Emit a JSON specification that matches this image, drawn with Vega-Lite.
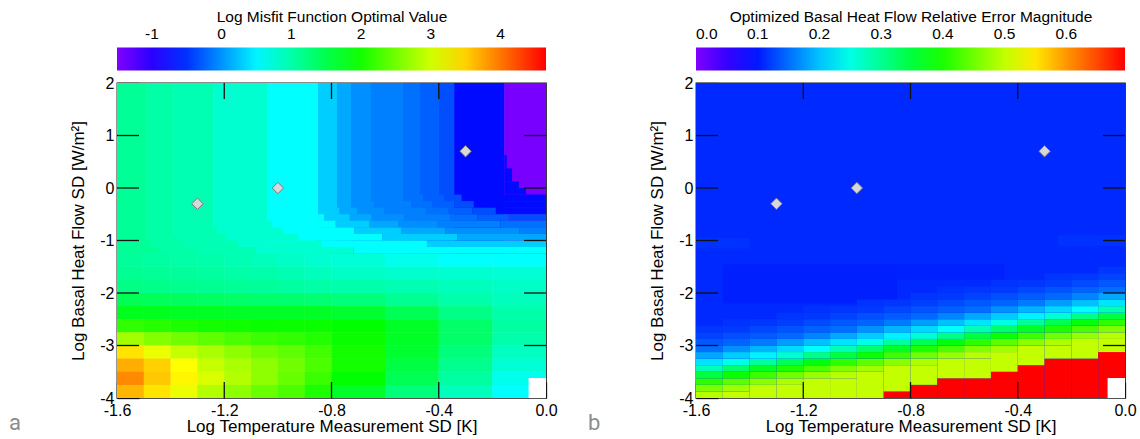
{
"$schema": "https://vega.github.io/schema/vega-lite/v6.json",
"background": "white",
"padding": {"left": 8, "top": 9, "right": 0, "bottom": 0},
"autosize": {"type": "pad"},
"bounds": "flush",
"spacing": 150,
"datasets": {
"pts": [{"x": -1.3, "y": -0.3}, {"x": -1.0, "y": 0.0}, {"x": -0.3, "y": 0.7}],
"sq": [{"x": -0.065, "x2": 0, "y": -4, "y2": -3.62}],
"xt": [{"t": -1.2}, {"t": -0.8}, {"t": -0.4}],
"yt": [{"t": -3}, {"t": -2}, {"t": -1}, {"t": 0}, {"t": 1}],
"fa": [
{"x":-1.6,"x2":-1.49,"y":-1.25,"y2":2,"v":1.1},
{"x":-1.49,"x2":-1.39,"y":-1.25,"y2":2,"v":1.02},
{"x":-1.39,"x2":-1.24,"y":-1.25,"y2":2,"v":0.95},
{"x":-1.24,"x2":-1.04,"y":-1.25,"y2":2,"v":0.8},
{"x":-1.04,"x2":-0.85,"y":-1.25,"y2":2,"v":0.55},
{"x":-0.85,"x2":-0.78,"y":-1.25,"y2":2,"v":0.3},
{"x":-0.78,"x2":-0.727,"y":-1.25,"y2":2,"v":0.11},
{"x":-0.727,"x2":-0.653,"y":-1.25,"y2":2,"v":-0.02},
{"x":-0.653,"x2":-0.534,"y":-1.25,"y2":2,"v":-0.1},
{"x":-0.534,"x2":-0.47,"y":-1.25,"y2":2,"v":-0.18},
{"x":-0.47,"x2":-0.4,"y":-1.25,"y2":2,"v":-0.26},
{"x":-0.4,"x2":-0.342,"y":-1.25,"y2":2,"v":-0.35},
{"x":-0.342,"x2":-0.155,"y":-1.25,"y2":2,"v":-0.7},
{"x":-0.155,"x2":0,"y":-1.25,"y2":2,"v":-1.45},
{"x":-0.155,"x2":-0.146,"y":0.375,"y2":0.625,"v":-0.7},
{"x":-0.146,"x2":0,"y":0.375,"y2":0.625,"v":-1.45},
{"x":-0.155,"x2":-0.126,"y":0.125,"y2":0.375,"v":-0.7},
{"x":-0.126,"x2":0,"y":0.125,"y2":0.375,"v":-1.45},
{"x":-0.155,"x2":-0.101,"y":0,"y2":0.125,"v":-0.7},
{"x":-0.101,"x2":0,"y":0,"y2":0.125,"v":-1.45},
{"x":-0.155,"x2":-0.074,"y":-0.125,"y2":0,"v":-0.7},
{"x":-0.074,"x2":0,"y":-0.125,"y2":0,"v":-1.45},
{"x":-0.47,"x2":-0.458,"y":-0.25,"y2":-0.125,"v":-0.18},
{"x":-0.458,"x2":-0.38,"y":-0.25,"y2":-0.125,"v":-0.26},
{"x":-0.38,"x2":-0.314,"y":-0.25,"y2":-0.125,"v":-0.35},
{"x":-0.314,"x2":0,"y":-0.25,"y2":-0.125,"v":-0.7},
{"x":-0.653,"x2":-0.642,"y":-0.375,"y2":-0.25,"v":-0.02},
{"x":-0.642,"x2":-0.502,"y":-0.375,"y2":-0.25,"v":-0.1},
{"x":-0.502,"x2":-0.424,"y":-0.375,"y2":-0.25,"v":-0.18},
{"x":-0.424,"x2":-0.341,"y":-0.375,"y2":-0.25,"v":-0.26},
{"x":-0.341,"x2":-0.269,"y":-0.375,"y2":-0.25,"v":-0.35},
{"x":-0.269,"x2":0,"y":-0.375,"y2":-0.25,"v":-0.7},
{"x":-0.78,"x2":-0.77,"y":-0.5,"y2":-0.375,"v":0.3},
{"x":-0.77,"x2":-0.705,"y":-0.5,"y2":-0.375,"v":0.11},
{"x":-0.705,"x2":-0.603,"y":-0.5,"y2":-0.375,"v":-0.02},
{"x":-0.603,"x2":-0.448,"y":-0.5,"y2":-0.375,"v":-0.1},
{"x":-0.448,"x2":-0.363,"y":-0.5,"y2":-0.375,"v":-0.18},
{"x":-0.363,"x2":-0.274,"y":-0.5,"y2":-0.375,"v":-0.26},
{"x":-0.274,"x2":-0.187,"y":-0.5,"y2":-0.375,"v":-0.35},
{"x":-0.187,"x2":0,"y":-0.5,"y2":-0.375,"v":-0.7},
{"x":-0.85,"x2":-0.828,"y":-0.625,"y2":-0.5,"v":0.55},
{"x":-0.828,"x2":-0.732,"y":-0.625,"y2":-0.5,"v":0.3},
{"x":-0.732,"x2":-0.65,"y":-0.625,"y2":-0.5,"v":0.11},
{"x":-0.65,"x2":-0.53,"y":-0.625,"y2":-0.5,"v":-0.02},
{"x":-0.53,"x2":-0.356,"y":-0.625,"y2":-0.5,"v":-0.1},
{"x":-0.356,"x2":-0.255,"y":-0.625,"y2":-0.5,"v":-0.18},
{"x":-0.255,"x2":-0.139,"y":-0.625,"y2":-0.5,"v":-0.26},
{"x":-0.139,"x2":0,"y":-0.625,"y2":-0.5,"v":-0.35},
{"x":-1.04,"x2":-1.02,"y":-0.75,"y2":-0.625,"v":0.8},
{"x":-1.02,"x2":-0.785,"y":-0.75,"y2":-0.625,"v":0.55},
{"x":-0.785,"x2":-0.66,"y":-0.75,"y2":-0.625,"v":0.3},
{"x":-0.66,"x2":-0.551,"y":-0.75,"y2":-0.625,"v":0.11},
{"x":-0.551,"x2":-0.404,"y":-0.75,"y2":-0.625,"v":-0.02},
{"x":-0.404,"x2":-0.17,"y":-0.75,"y2":-0.625,"v":-0.1},
{"x":-0.17,"x2":0,"y":-0.75,"y2":-0.625,"v":-0.18},
{"x":-1.24,"x2":-1.226,"y":-0.875,"y2":-0.75,"v":0.95},
{"x":-1.226,"x2":-0.982,"y":-0.875,"y2":-0.75,"v":0.8},
{"x":-0.982,"x2":-0.715,"y":-0.875,"y2":-0.75,"v":0.55},
{"x":-0.715,"x2":-0.541,"y":-0.875,"y2":-0.75,"v":0.3},
{"x":-0.541,"x2":-0.375,"y":-0.875,"y2":-0.75,"v":0.11},
{"x":-0.375,"x2":-0.1,"y":-0.875,"y2":-0.75,"v":-0.02},
{"x":-0.1,"x2":0,"y":-0.875,"y2":-0.75,"v":-0.1},
{"x":-1.39,"x2":-1.38,"y":-1,"y2":-0.875,"v":1.02},
{"x":-1.38,"x2":-1.197,"y":-1,"y2":-0.875,"v":0.95},
{"x":-1.197,"x2":-0.923,"y":-1,"y2":-0.875,"v":0.8},
{"x":-0.923,"x2":-0.61,"y":-1,"y2":-0.875,"v":0.55},
{"x":-0.61,"x2":-0.329,"y":-1,"y2":-0.875,"v":0.3},
{"x":-0.329,"x2":0,"y":-1,"y2":-0.875,"v":0.11},
{"x":-1.49,"x2":-1.475,"y":-1.125,"y2":-1,"v":1.1},
{"x":-1.475,"x2":-1.354,"y":-1.125,"y2":-1,"v":1.02},
{"x":-1.354,"x2":-1.15,"y":-1.125,"y2":-1,"v":0.95},
{"x":-1.15,"x2":-0.838,"y":-1.125,"y2":-1,"v":0.8},
{"x":-0.838,"x2":-0.444,"y":-1.125,"y2":-1,"v":0.55},
{"x":-0.444,"x2":0,"y":-1.125,"y2":-1,"v":0.3},
{"x":-1.49,"x2":-1.443,"y":-1.25,"y2":-1.125,"v":1.1},
{"x":-1.443,"x2":-1.309,"y":-1.25,"y2":-1.125,"v":1.02},
{"x":-1.309,"x2":-1.081,"y":-1.25,"y2":-1.125,"v":0.95},
{"x":-1.081,"x2":-0.717,"y":-1.25,"y2":-1.125,"v":0.8},
{"x":-0.717,"x2":0,"y":-1.25,"y2":-1.125,"v":0.55},
{"x":-1.6,"x2":-1.5,"y":-1.5,"y2":-1.25,"v":1.08},
{"x":-1.5,"x2":-1.4,"y":-1.5,"y2":-1.25,"v":1.05},
{"x":-1.4,"x2":-1.3,"y":-1.5,"y2":-1.25,"v":1.02},
{"x":-1.3,"x2":-1.2,"y":-1.5,"y2":-1.25,"v":1.0},
{"x":-1.2,"x2":-1.1,"y":-1.5,"y2":-1.25,"v":0.95},
{"x":-1.1,"x2":-1.0,"y":-1.5,"y2":-1.25,"v":0.9},
{"x":-1.0,"x2":-0.9,"y":-1.5,"y2":-1.25,"v":0.85},
{"x":-0.9,"x2":-0.8,"y":-1.5,"y2":-1.25,"v":0.8},
{"x":-0.8,"x2":-0.6,"y":-1.5,"y2":-1.25,"v":0.75},
{"x":-0.6,"x2":-0.4,"y":-1.5,"y2":-1.25,"v":0.65},
{"x":-0.4,"x2":-0.2,"y":-1.5,"y2":-1.25,"v":0.55},
{"x":-0.2,"x2":0,"y":-1.5,"y2":-1.25,"v":0.55},
{"x":-1.6,"x2":-1.5,"y":-1.75,"y2":-1.5,"v":1.12},
{"x":-1.5,"x2":-1.4,"y":-1.75,"y2":-1.5,"v":1.1},
{"x":-1.4,"x2":-1.3,"y":-1.75,"y2":-1.5,"v":1.08},
{"x":-1.3,"x2":-1.2,"y":-1.75,"y2":-1.5,"v":1.05},
{"x":-1.2,"x2":-1.1,"y":-1.75,"y2":-1.5,"v":1.02},
{"x":-1.1,"x2":-1.0,"y":-1.75,"y2":-1.5,"v":1.0},
{"x":-1.0,"x2":-0.9,"y":-1.75,"y2":-1.5,"v":0.95},
{"x":-0.9,"x2":-0.8,"y":-1.75,"y2":-1.5,"v":0.9},
{"x":-0.8,"x2":-0.6,"y":-1.75,"y2":-1.5,"v":0.85},
{"x":-0.6,"x2":-0.4,"y":-1.75,"y2":-1.5,"v":0.82},
{"x":-0.4,"x2":-0.2,"y":-1.75,"y2":-1.5,"v":0.8},
{"x":-0.2,"x2":0,"y":-1.75,"y2":-1.5,"v":0.78},
{"x":-1.6,"x2":-1.5,"y":-2,"y2":-1.75,"v":1.2},
{"x":-1.5,"x2":-1.4,"y":-2,"y2":-1.75,"v":1.18},
{"x":-1.4,"x2":-1.3,"y":-2,"y2":-1.75,"v":1.15},
{"x":-1.3,"x2":-1.2,"y":-2,"y2":-1.75,"v":1.12},
{"x":-1.2,"x2":-1.1,"y":-2,"y2":-1.75,"v":1.1},
{"x":-1.1,"x2":-1.0,"y":-2,"y2":-1.75,"v":1.08},
{"x":-1.0,"x2":-0.9,"y":-2,"y2":-1.75,"v":1.05},
{"x":-0.9,"x2":-0.8,"y":-2,"y2":-1.75,"v":1.02},
{"x":-0.8,"x2":-0.6,"y":-2,"y2":-1.75,"v":1.0},
{"x":-0.6,"x2":-0.4,"y":-2,"y2":-1.75,"v":0.95},
{"x":-0.4,"x2":-0.2,"y":-2,"y2":-1.75,"v":0.9},
{"x":-0.2,"x2":0,"y":-2,"y2":-1.75,"v":0.85},
{"x":-1.6,"x2":-1.5,"y":-2.25,"y2":-2,"v":1.45},
{"x":-1.5,"x2":-1.4,"y":-2.25,"y2":-2,"v":1.42},
{"x":-1.4,"x2":-1.3,"y":-2.25,"y2":-2,"v":1.4},
{"x":-1.3,"x2":-1.2,"y":-2.25,"y2":-2,"v":1.38},
{"x":-1.2,"x2":-1.1,"y":-2.25,"y2":-2,"v":1.35},
{"x":-1.1,"x2":-1.0,"y":-2.25,"y2":-2,"v":1.33},
{"x":-1.0,"x2":-0.9,"y":-2.25,"y2":-2,"v":1.32},
{"x":-0.9,"x2":-0.8,"y":-2.25,"y2":-2,"v":1.3},
{"x":-0.8,"x2":-0.6,"y":-2.25,"y2":-2,"v":1.25},
{"x":-0.6,"x2":-0.4,"y":-2.25,"y2":-2,"v":1.12},
{"x":-0.4,"x2":-0.2,"y":-2.25,"y2":-2,"v":1.0},
{"x":-0.2,"x2":0,"y":-2.25,"y2":-2,"v":0.9},
{"x":-1.6,"x2":-1.5,"y":-2.5,"y2":-2.25,"v":1.75},
{"x":-1.5,"x2":-1.4,"y":-2.5,"y2":-2.25,"v":1.75},
{"x":-1.4,"x2":-1.3,"y":-2.5,"y2":-2.25,"v":1.72},
{"x":-1.3,"x2":-1.2,"y":-2.5,"y2":-2.25,"v":1.72},
{"x":-1.2,"x2":-1.1,"y":-2.5,"y2":-2.25,"v":1.7},
{"x":-1.1,"x2":-1.0,"y":-2.5,"y2":-2.25,"v":1.7},
{"x":-1.0,"x2":-0.9,"y":-2.5,"y2":-2.25,"v":1.7},
{"x":-0.9,"x2":-0.8,"y":-2.5,"y2":-2.25,"v":1.7},
{"x":-0.8,"x2":-0.6,"y":-2.5,"y2":-2.25,"v":1.65},
{"x":-0.6,"x2":-0.4,"y":-2.5,"y2":-2.25,"v":1.45},
{"x":-0.4,"x2":-0.2,"y":-2.5,"y2":-2.25,"v":1.2},
{"x":-0.2,"x2":0,"y":-2.5,"y2":-2.25,"v":1.0},
{"x":-1.6,"x2":-1.5,"y":-2.75,"y2":-2.5,"v":2.15},
{"x":-1.5,"x2":-1.4,"y":-2.75,"y2":-2.5,"v":2.1},
{"x":-1.4,"x2":-1.3,"y":-2.75,"y2":-2.5,"v":2.05},
{"x":-1.3,"x2":-1.2,"y":-2.75,"y2":-2.5,"v":2.0},
{"x":-1.2,"x2":-1.1,"y":-2.75,"y2":-2.5,"v":1.98},
{"x":-1.1,"x2":-1.0,"y":-2.75,"y2":-2.5,"v":1.95},
{"x":-1.0,"x2":-0.9,"y":-2.75,"y2":-2.5,"v":1.95},
{"x":-0.9,"x2":-0.8,"y":-2.75,"y2":-2.5,"v":1.95},
{"x":-0.8,"x2":-0.6,"y":-2.75,"y2":-2.5,"v":1.9},
{"x":-0.6,"x2":-0.4,"y":-2.75,"y2":-2.5,"v":1.7},
{"x":-0.4,"x2":-0.2,"y":-2.75,"y2":-2.5,"v":1.35},
{"x":-0.2,"x2":0,"y":-2.75,"y2":-2.5,"v":1.05},
{"x":-1.6,"x2":-1.5,"y":-3,"y2":-2.75,"v":2.75},
{"x":-1.5,"x2":-1.4,"y":-3,"y2":-2.75,"v":2.6},
{"x":-1.4,"x2":-1.3,"y":-3,"y2":-2.75,"v":2.5},
{"x":-1.3,"x2":-1.2,"y":-3,"y2":-2.75,"v":2.4},
{"x":-1.2,"x2":-1.1,"y":-3,"y2":-2.75,"v":2.3},
{"x":-1.1,"x2":-1.0,"y":-3,"y2":-2.75,"v":2.2},
{"x":-1.0,"x2":-0.9,"y":-3,"y2":-2.75,"v":2.15},
{"x":-0.9,"x2":-0.8,"y":-3,"y2":-2.75,"v":2.08},
{"x":-0.8,"x2":-0.6,"y":-3,"y2":-2.75,"v":1.95},
{"x":-0.6,"x2":-0.4,"y":-3,"y2":-2.75,"v":1.7},
{"x":-0.4,"x2":-0.2,"y":-3,"y2":-2.75,"v":1.35},
{"x":-0.2,"x2":0,"y":-3,"y2":-2.75,"v":1.0},
{"x":-1.6,"x2":-1.5,"y":-3.25,"y2":-3,"v":3.4},
{"x":-1.5,"x2":-1.4,"y":-3.25,"y2":-3,"v":3.15},
{"x":-1.4,"x2":-1.3,"y":-3.25,"y2":-3,"v":2.95},
{"x":-1.3,"x2":-1.2,"y":-3.25,"y2":-3,"v":2.8},
{"x":-1.2,"x2":-1.1,"y":-3.25,"y2":-3,"v":2.65},
{"x":-1.1,"x2":-1.0,"y":-3.25,"y2":-3,"v":2.5},
{"x":-1.0,"x2":-0.9,"y":-3.25,"y2":-3,"v":2.4},
{"x":-0.9,"x2":-0.8,"y":-3.25,"y2":-3,"v":2.25},
{"x":-0.8,"x2":-0.6,"y":-3.25,"y2":-3,"v":2.0},
{"x":-0.6,"x2":-0.4,"y":-3.25,"y2":-3,"v":1.65},
{"x":-0.4,"x2":-0.2,"y":-3.25,"y2":-3,"v":1.25},
{"x":-0.2,"x2":0,"y":-3.25,"y2":-3,"v":0.88},
{"x":-1.6,"x2":-1.5,"y":-3.5,"y2":-3.25,"v":3.7},
{"x":-1.5,"x2":-1.4,"y":-3.5,"y2":-3.25,"v":3.5},
{"x":-1.4,"x2":-1.3,"y":-3.5,"y2":-3.25,"v":3.25},
{"x":-1.3,"x2":-1.2,"y":-3.5,"y2":-3.25,"v":2.95},
{"x":-1.2,"x2":-1.1,"y":-3.5,"y2":-3.25,"v":2.8},
{"x":-1.1,"x2":-1.0,"y":-3.5,"y2":-3.25,"v":2.65},
{"x":-1.0,"x2":-0.9,"y":-3.5,"y2":-3.25,"v":2.5},
{"x":-0.9,"x2":-0.8,"y":-3.5,"y2":-3.25,"v":2.3},
{"x":-0.8,"x2":-0.6,"y":-3.5,"y2":-3.25,"v":2.0},
{"x":-0.6,"x2":-0.4,"y":-3.5,"y2":-3.25,"v":1.55},
{"x":-0.4,"x2":-0.2,"y":-3.5,"y2":-3.25,"v":1.15},
{"x":-0.2,"x2":0,"y":-3.5,"y2":-3.25,"v":0.78},
{"x":-1.6,"x2":-1.5,"y":-3.75,"y2":-3.5,"v":3.9},
{"x":-1.5,"x2":-1.4,"y":-3.75,"y2":-3.5,"v":3.55},
{"x":-1.4,"x2":-1.3,"y":-3.75,"y2":-3.5,"v":3.3},
{"x":-1.3,"x2":-1.2,"y":-3.75,"y2":-3.5,"v":3.05},
{"x":-1.2,"x2":-1.1,"y":-3.75,"y2":-3.5,"v":2.85},
{"x":-1.1,"x2":-1.0,"y":-3.75,"y2":-3.5,"v":2.65},
{"x":-1.0,"x2":-0.9,"y":-3.75,"y2":-3.5,"v":2.45},
{"x":-0.9,"x2":-0.8,"y":-3.75,"y2":-3.5,"v":2.2},
{"x":-0.8,"x2":-0.6,"y":-3.75,"y2":-3.5,"v":1.9},
{"x":-0.6,"x2":-0.4,"y":-3.75,"y2":-3.5,"v":1.45},
{"x":-0.4,"x2":-0.2,"y":-3.75,"y2":-3.5,"v":1.05},
{"x":-0.2,"x2":0,"y":-3.75,"y2":-3.5,"v":0.65},
{"x":-1.6,"x2":-1.5,"y":-4,"y2":-3.75,"v":3.65},
{"x":-1.5,"x2":-1.4,"y":-4,"y2":-3.75,"v":3.4},
{"x":-1.4,"x2":-1.3,"y":-4,"y2":-3.75,"v":3.15},
{"x":-1.3,"x2":-1.2,"y":-4,"y2":-3.75,"v":2.85},
{"x":-1.2,"x2":-1.1,"y":-4,"y2":-3.75,"v":2.65},
{"x":-1.1,"x2":-1.0,"y":-4,"y2":-3.75,"v":2.45},
{"x":-1.0,"x2":-0.9,"y":-4,"y2":-3.75,"v":2.3},
{"x":-0.9,"x2":-0.8,"y":-4,"y2":-3.75,"v":2.05},
{"x":-0.8,"x2":-0.6,"y":-4,"y2":-3.75,"v":1.7},
{"x":-0.6,"x2":-0.4,"y":-4,"y2":-3.75,"v":1.25},
{"x":-0.4,"x2":-0.2,"y":-4,"y2":-3.75,"v":0.9},
{"x":-0.2,"x2":0,"y":-4,"y2":-3.75,"v":0.55}
],
"fb": [
{"x":-1.6,"x2":0,"y":-4,"y2":2,"v":0.11},
{"x":-1.5,"x2":-0.85,"y":-2.2,"y2":-1.45,"v":0.104},
{"x":-0.85,"x2":-0.45,"y":-1.75,"y2":-1.45,"v":0.105},
{"x":-1.6,"x2":-1.4,"y":-1.15,"y2":-0.95,"v":0.115},
{"x":-0.25,"x2":0,"y":-1.1,"y2":-0.9,"v":0.115},
{"x":-1.6,"x2":-1.5,"y":-4,"y2":-3.875,"v":0.493},
{"x":-1.6,"x2":-1.5,"y":-3.875,"y2":-3.75,"v":0.46},
{"x":-1.6,"x2":-1.5,"y":-3.75,"y2":-3.625,"v":0.411},
{"x":-1.6,"x2":-1.5,"y":-3.625,"y2":-3.5,"v":0.35},
{"x":-1.6,"x2":-1.5,"y":-3.5,"y2":-3.375,"v":0.278},
{"x":-1.6,"x2":-1.5,"y":-3.375,"y2":-3.25,"v":0.22},
{"x":-1.6,"x2":-1.5,"y":-3.25,"y2":-3.125,"v":0.185},
{"x":-1.6,"x2":-1.5,"y":-3.125,"y2":-3,"v":0.15},
{"x":-1.6,"x2":-1.5,"y":-3,"y2":-2.875,"v":0.1375},
{"x":-1.6,"x2":-1.5,"y":-2.875,"y2":-2.75,"v":0.125},
{"x":-1.6,"x2":-1.5,"y":-2.75,"y2":-2.625,"v":0.1175},
{"x":-1.5,"x2":-1.4,"y":-4,"y2":-3.875,"v":0.5},
{"x":-1.5,"x2":-1.4,"y":-3.875,"y2":-3.75,"v":0.48},
{"x":-1.5,"x2":-1.4,"y":-3.75,"y2":-3.625,"v":0.44},
{"x":-1.5,"x2":-1.4,"y":-3.625,"y2":-3.5,"v":0.391},
{"x":-1.5,"x2":-1.4,"y":-3.5,"y2":-3.375,"v":0.322},
{"x":-1.5,"x2":-1.4,"y":-3.375,"y2":-3.25,"v":0.249},
{"x":-1.5,"x2":-1.4,"y":-3.25,"y2":-3.125,"v":0.206},
{"x":-1.5,"x2":-1.4,"y":-3.125,"y2":-3,"v":0.171},
{"x":-1.5,"x2":-1.4,"y":-3,"y2":-2.875,"v":0.145},
{"x":-1.5,"x2":-1.4,"y":-2.875,"y2":-2.75,"v":0.1325},
{"x":-1.5,"x2":-1.4,"y":-2.75,"y2":-2.625,"v":0.12},
{"x":-1.5,"x2":-1.4,"y":-2.625,"y2":-2.5,"v":0.116},
{"x":-1.4,"x2":-1.3,"y":-4,"y2":-3.75,"v":0.5},
{"x":-1.4,"x2":-1.3,"y":-3.75,"y2":-3.625,"v":0.467},
{"x":-1.4,"x2":-1.3,"y":-3.625,"y2":-3.5,"v":0.421},
{"x":-1.4,"x2":-1.3,"y":-3.5,"y2":-3.375,"v":0.365},
{"x":-1.4,"x2":-1.3,"y":-3.375,"y2":-3.25,"v":0.293},
{"x":-1.4,"x2":-1.3,"y":-3.25,"y2":-3.125,"v":0.228},
{"x":-1.4,"x2":-1.3,"y":-3.125,"y2":-3,"v":0.192},
{"x":-1.4,"x2":-1.3,"y":-3,"y2":-2.875,"v":0.157},
{"x":-1.4,"x2":-1.3,"y":-2.875,"y2":-2.75,"v":0.14},
{"x":-1.4,"x2":-1.3,"y":-2.75,"y2":-2.625,"v":0.1275},
{"x":-1.4,"x2":-1.3,"y":-2.625,"y2":-2.5,"v":0.118},
{"x":-1.3,"x2":-1.2,"y":-4,"y2":-3.75,"v":0.5},
{"x":-1.3,"x2":-1.2,"y":-3.75,"y2":-3.625,"v":0.487},
{"x":-1.3,"x2":-1.2,"y":-3.625,"y2":-3.5,"v":0.45},
{"x":-1.3,"x2":-1.2,"y":-3.5,"y2":-3.375,"v":0.401},
{"x":-1.3,"x2":-1.2,"y":-3.375,"y2":-3.25,"v":0.336},
{"x":-1.3,"x2":-1.2,"y":-3.25,"y2":-3.125,"v":0.264},
{"x":-1.3,"x2":-1.2,"y":-3.125,"y2":-3,"v":0.213},
{"x":-1.3,"x2":-1.2,"y":-3,"y2":-2.875,"v":0.178},
{"x":-1.3,"x2":-1.2,"y":-2.875,"y2":-2.75,"v":0.1475},
{"x":-1.3,"x2":-1.2,"y":-2.75,"y2":-2.625,"v":0.135},
{"x":-1.3,"x2":-1.2,"y":-2.625,"y2":-2.5,"v":0.1225},
{"x":-1.3,"x2":-1.2,"y":-2.5,"y2":-2.375,"v":0.117},
{"x":-1.2,"x2":-1.1,"y":-4,"y2":-3.625,"v":0.5},
{"x":-1.2,"x2":-1.1,"y":-3.625,"y2":-3.5,"v":0.473},
{"x":-1.2,"x2":-1.1,"y":-3.5,"y2":-3.375,"v":0.43},
{"x":-1.2,"x2":-1.1,"y":-3.375,"y2":-3.25,"v":0.379},
{"x":-1.2,"x2":-1.1,"y":-3.25,"y2":-3.125,"v":0.307},
{"x":-1.2,"x2":-1.1,"y":-3.125,"y2":-3,"v":0.235},
{"x":-1.2,"x2":-1.1,"y":-3,"y2":-2.875,"v":0.199},
{"x":-1.2,"x2":-1.1,"y":-2.875,"y2":-2.75,"v":0.164},
{"x":-1.2,"x2":-1.1,"y":-2.75,"y2":-2.625,"v":0.1425},
{"x":-1.2,"x2":-1.1,"y":-2.625,"y2":-2.5,"v":0.13},
{"x":-1.2,"x2":-1.1,"y":-2.5,"y2":-2.375,"v":0.119},
{"x":-1.2,"x2":-1.1,"y":-2.375,"y2":-2.25,"v":0.115},
{"x":-1.1,"x2":-1.0,"y":-4,"y2":-3.625,"v":0.5},
{"x":-1.1,"x2":-1.0,"y":-3.625,"y2":-3.5,"v":0.493},
{"x":-1.1,"x2":-1.0,"y":-3.5,"y2":-3.375,"v":0.46},
{"x":-1.1,"x2":-1.0,"y":-3.375,"y2":-3.25,"v":0.411},
{"x":-1.1,"x2":-1.0,"y":-3.25,"y2":-3.125,"v":0.35},
{"x":-1.1,"x2":-1.0,"y":-3.125,"y2":-3,"v":0.278},
{"x":-1.1,"x2":-1.0,"y":-3,"y2":-2.875,"v":0.22},
{"x":-1.1,"x2":-1.0,"y":-2.875,"y2":-2.75,"v":0.185},
{"x":-1.1,"x2":-1.0,"y":-2.75,"y2":-2.625,"v":0.15},
{"x":-1.1,"x2":-1.0,"y":-2.625,"y2":-2.5,"v":0.1375},
{"x":-1.1,"x2":-1.0,"y":-2.5,"y2":-2.375,"v":0.125},
{"x":-1.1,"x2":-1.0,"y":-2.375,"y2":-2.25,"v":0.1175},
{"x":-1.0,"x2":-0.9,"y":-4,"y2":-3.5,"v":0.5},
{"x":-1.0,"x2":-0.9,"y":-3.5,"y2":-3.375,"v":0.48},
{"x":-1.0,"x2":-0.9,"y":-3.375,"y2":-3.25,"v":0.44},
{"x":-1.0,"x2":-0.9,"y":-3.25,"y2":-3.125,"v":0.391},
{"x":-1.0,"x2":-0.9,"y":-3.125,"y2":-3,"v":0.322},
{"x":-1.0,"x2":-0.9,"y":-3,"y2":-2.875,"v":0.249},
{"x":-1.0,"x2":-0.9,"y":-2.875,"y2":-2.75,"v":0.206},
{"x":-1.0,"x2":-0.9,"y":-2.75,"y2":-2.625,"v":0.171},
{"x":-1.0,"x2":-0.9,"y":-2.625,"y2":-2.5,"v":0.145},
{"x":-1.0,"x2":-0.9,"y":-2.5,"y2":-2.375,"v":0.1325},
{"x":-1.0,"x2":-0.9,"y":-2.375,"y2":-2.25,"v":0.12},
{"x":-1.0,"x2":-0.9,"y":-2.25,"y2":-2.125,"v":0.116},
{"x":-0.9,"x2":-0.8,"y":-4,"y2":-3.875,"v":0.695},
{"x":-0.9,"x2":-0.8,"y":-3.875,"y2":-3.375,"v":0.5},
{"x":-0.9,"x2":-0.8,"y":-3.375,"y2":-3.25,"v":0.467},
{"x":-0.9,"x2":-0.8,"y":-3.25,"y2":-3.125,"v":0.421},
{"x":-0.9,"x2":-0.8,"y":-3.125,"y2":-3,"v":0.365},
{"x":-0.9,"x2":-0.8,"y":-3,"y2":-2.875,"v":0.293},
{"x":-0.9,"x2":-0.8,"y":-2.875,"y2":-2.75,"v":0.228},
{"x":-0.9,"x2":-0.8,"y":-2.75,"y2":-2.625,"v":0.192},
{"x":-0.9,"x2":-0.8,"y":-2.625,"y2":-2.5,"v":0.157},
{"x":-0.9,"x2":-0.8,"y":-2.5,"y2":-2.375,"v":0.14},
{"x":-0.9,"x2":-0.8,"y":-2.375,"y2":-2.25,"v":0.1275},
{"x":-0.9,"x2":-0.8,"y":-2.25,"y2":-2.125,"v":0.118},
{"x":-0.8,"x2":-0.7,"y":-4,"y2":-3.75,"v":0.695},
{"x":-0.8,"x2":-0.7,"y":-3.75,"y2":-3.375,"v":0.5},
{"x":-0.8,"x2":-0.7,"y":-3.375,"y2":-3.25,"v":0.487},
{"x":-0.8,"x2":-0.7,"y":-3.25,"y2":-3.125,"v":0.45},
{"x":-0.8,"x2":-0.7,"y":-3.125,"y2":-3,"v":0.401},
{"x":-0.8,"x2":-0.7,"y":-3,"y2":-2.875,"v":0.336},
{"x":-0.8,"x2":-0.7,"y":-2.875,"y2":-2.75,"v":0.264},
{"x":-0.8,"x2":-0.7,"y":-2.75,"y2":-2.625,"v":0.213},
{"x":-0.8,"x2":-0.7,"y":-2.625,"y2":-2.5,"v":0.178},
{"x":-0.8,"x2":-0.7,"y":-2.5,"y2":-2.375,"v":0.1475},
{"x":-0.8,"x2":-0.7,"y":-2.375,"y2":-2.25,"v":0.135},
{"x":-0.8,"x2":-0.7,"y":-2.25,"y2":-2.125,"v":0.1225},
{"x":-0.8,"x2":-0.7,"y":-2.125,"y2":-2,"v":0.117},
{"x":-0.7,"x2":-0.6,"y":-4,"y2":-3.625,"v":0.695},
{"x":-0.7,"x2":-0.6,"y":-3.625,"y2":-3.25,"v":0.5},
{"x":-0.7,"x2":-0.6,"y":-3.25,"y2":-3.125,"v":0.473},
{"x":-0.7,"x2":-0.6,"y":-3.125,"y2":-3,"v":0.43},
{"x":-0.7,"x2":-0.6,"y":-3,"y2":-2.875,"v":0.379},
{"x":-0.7,"x2":-0.6,"y":-2.875,"y2":-2.75,"v":0.307},
{"x":-0.7,"x2":-0.6,"y":-2.75,"y2":-2.625,"v":0.235},
{"x":-0.7,"x2":-0.6,"y":-2.625,"y2":-2.5,"v":0.199},
{"x":-0.7,"x2":-0.6,"y":-2.5,"y2":-2.375,"v":0.164},
{"x":-0.7,"x2":-0.6,"y":-2.375,"y2":-2.25,"v":0.1425},
{"x":-0.7,"x2":-0.6,"y":-2.25,"y2":-2.125,"v":0.13},
{"x":-0.7,"x2":-0.6,"y":-2.125,"y2":-2,"v":0.119},
{"x":-0.7,"x2":-0.6,"y":-2,"y2":-1.875,"v":0.115},
{"x":-0.6,"x2":-0.5,"y":-4,"y2":-3.625,"v":0.695},
{"x":-0.6,"x2":-0.5,"y":-3.625,"y2":-3.25,"v":0.5},
{"x":-0.6,"x2":-0.5,"y":-3.25,"y2":-3.125,"v":0.493},
{"x":-0.6,"x2":-0.5,"y":-3.125,"y2":-3,"v":0.46},
{"x":-0.6,"x2":-0.5,"y":-3,"y2":-2.875,"v":0.411},
{"x":-0.6,"x2":-0.5,"y":-2.875,"y2":-2.75,"v":0.35},
{"x":-0.6,"x2":-0.5,"y":-2.75,"y2":-2.625,"v":0.278},
{"x":-0.6,"x2":-0.5,"y":-2.625,"y2":-2.5,"v":0.22},
{"x":-0.6,"x2":-0.5,"y":-2.5,"y2":-2.375,"v":0.185},
{"x":-0.6,"x2":-0.5,"y":-2.375,"y2":-2.25,"v":0.15},
{"x":-0.6,"x2":-0.5,"y":-2.25,"y2":-2.125,"v":0.1375},
{"x":-0.6,"x2":-0.5,"y":-2.125,"y2":-2,"v":0.125},
{"x":-0.6,"x2":-0.5,"y":-2,"y2":-1.875,"v":0.1175},
{"x":-0.5,"x2":-0.4,"y":-4,"y2":-3.5,"v":0.695},
{"x":-0.5,"x2":-0.4,"y":-3.5,"y2":-3.125,"v":0.5},
{"x":-0.5,"x2":-0.4,"y":-3.125,"y2":-3,"v":0.48},
{"x":-0.5,"x2":-0.4,"y":-3,"y2":-2.875,"v":0.44},
{"x":-0.5,"x2":-0.4,"y":-2.875,"y2":-2.75,"v":0.391},
{"x":-0.5,"x2":-0.4,"y":-2.75,"y2":-2.625,"v":0.322},
{"x":-0.5,"x2":-0.4,"y":-2.625,"y2":-2.5,"v":0.249},
{"x":-0.5,"x2":-0.4,"y":-2.5,"y2":-2.375,"v":0.206},
{"x":-0.5,"x2":-0.4,"y":-2.375,"y2":-2.25,"v":0.171},
{"x":-0.5,"x2":-0.4,"y":-2.25,"y2":-2.125,"v":0.145},
{"x":-0.5,"x2":-0.4,"y":-2.125,"y2":-2,"v":0.1325},
{"x":-0.5,"x2":-0.4,"y":-2,"y2":-1.875,"v":0.12},
{"x":-0.5,"x2":-0.4,"y":-1.875,"y2":-1.75,"v":0.116},
{"x":-0.4,"x2":-0.3,"y":-4,"y2":-3.375,"v":0.695},
{"x":-0.4,"x2":-0.3,"y":-3.375,"y2":-3,"v":0.5},
{"x":-0.4,"x2":-0.3,"y":-3,"y2":-2.875,"v":0.467},
{"x":-0.4,"x2":-0.3,"y":-2.875,"y2":-2.75,"v":0.421},
{"x":-0.4,"x2":-0.3,"y":-2.75,"y2":-2.625,"v":0.365},
{"x":-0.4,"x2":-0.3,"y":-2.625,"y2":-2.5,"v":0.293},
{"x":-0.4,"x2":-0.3,"y":-2.5,"y2":-2.375,"v":0.228},
{"x":-0.4,"x2":-0.3,"y":-2.375,"y2":-2.25,"v":0.192},
{"x":-0.4,"x2":-0.3,"y":-2.25,"y2":-2.125,"v":0.157},
{"x":-0.4,"x2":-0.3,"y":-2.125,"y2":-2,"v":0.14},
{"x":-0.4,"x2":-0.3,"y":-2,"y2":-1.875,"v":0.1275},
{"x":-0.4,"x2":-0.3,"y":-1.875,"y2":-1.75,"v":0.118},
{"x":-0.3,"x2":-0.2,"y":-4,"y2":-3.25,"v":0.695},
{"x":-0.3,"x2":-0.2,"y":-3.25,"y2":-3,"v":0.5},
{"x":-0.3,"x2":-0.2,"y":-3,"y2":-2.875,"v":0.487},
{"x":-0.3,"x2":-0.2,"y":-2.875,"y2":-2.75,"v":0.45},
{"x":-0.3,"x2":-0.2,"y":-2.75,"y2":-2.625,"v":0.401},
{"x":-0.3,"x2":-0.2,"y":-2.625,"y2":-2.5,"v":0.336},
{"x":-0.3,"x2":-0.2,"y":-2.5,"y2":-2.375,"v":0.264},
{"x":-0.3,"x2":-0.2,"y":-2.375,"y2":-2.25,"v":0.213},
{"x":-0.3,"x2":-0.2,"y":-2.25,"y2":-2.125,"v":0.178},
{"x":-0.3,"x2":-0.2,"y":-2.125,"y2":-2,"v":0.1475},
{"x":-0.3,"x2":-0.2,"y":-2,"y2":-1.875,"v":0.135},
{"x":-0.3,"x2":-0.2,"y":-1.875,"y2":-1.75,"v":0.1225},
{"x":-0.3,"x2":-0.2,"y":-1.75,"y2":-1.625,"v":0.117},
{"x":-0.2,"x2":-0.1,"y":-4,"y2":-3.25,"v":0.695},
{"x":-0.2,"x2":-0.1,"y":-3.25,"y2":-2.875,"v":0.5},
{"x":-0.2,"x2":-0.1,"y":-2.875,"y2":-2.75,"v":0.473},
{"x":-0.2,"x2":-0.1,"y":-2.75,"y2":-2.625,"v":0.43},
{"x":-0.2,"x2":-0.1,"y":-2.625,"y2":-2.5,"v":0.379},
{"x":-0.2,"x2":-0.1,"y":-2.5,"y2":-2.375,"v":0.307},
{"x":-0.2,"x2":-0.1,"y":-2.375,"y2":-2.25,"v":0.235},
{"x":-0.2,"x2":-0.1,"y":-2.25,"y2":-2.125,"v":0.199},
{"x":-0.2,"x2":-0.1,"y":-2.125,"y2":-2,"v":0.164},
{"x":-0.2,"x2":-0.1,"y":-2,"y2":-1.875,"v":0.1425},
{"x":-0.2,"x2":-0.1,"y":-1.875,"y2":-1.75,"v":0.13},
{"x":-0.2,"x2":-0.1,"y":-1.75,"y2":-1.625,"v":0.119},
{"x":-0.1,"x2":0,"y":-4,"y2":-3.125,"v":0.695},
{"x":-0.1,"x2":0,"y":-3.125,"y2":-2.875,"v":0.5},
{"x":-0.1,"x2":0,"y":-2.875,"y2":-2.75,"v":0.493},
{"x":-0.1,"x2":0,"y":-2.75,"y2":-2.625,"v":0.46},
{"x":-0.1,"x2":0,"y":-2.625,"y2":-2.5,"v":0.411},
{"x":-0.1,"x2":0,"y":-2.5,"y2":-2.375,"v":0.35},
{"x":-0.1,"x2":0,"y":-2.375,"y2":-2.25,"v":0.278},
{"x":-0.1,"x2":0,"y":-2.25,"y2":-2.125,"v":0.22},
{"x":-0.1,"x2":0,"y":-2.125,"y2":-2,"v":0.185},
{"x":-0.1,"x2":0,"y":-2,"y2":-1.875,"v":0.15},
{"x":-0.1,"x2":0,"y":-1.875,"y2":-1.75,"v":0.1375},
{"x":-0.1,"x2":0,"y":-1.75,"y2":-1.625,"v":0.125},
{"x":-0.1,"x2":0,"y":-1.625,"y2":-1.5,"v":0.1175}
]
},
"hconcat": [
{
"width": 429, "height": 315,
"title": {"text": "a", "orient": "bottom", "anchor": "start", "frame": "group", "dx": -108, "dy": -21, "offset": 0, "fontSize": 22, "fontWeight": "normal", "color": "#8c8c8c", "font": "Roboto"},
"layer": [
{
"data": {"name": "fa"},
"mark": {"type": "rect", "clip": true},
"encoding": {
"x": {"field": "x", "type": "quantitative", "scale": {"domain": [-1.6, 0], "nice": false, "zero": false},
 "axis": {"orient": "bottom", "values": [-1.6, -1.2, -0.8, -0.4, 0], "format": ".1f", "labelExpr": "replace(datum.label, '\u2212', '-')", "labelFlush": false, "labelOverlap": false, "tickSize": -16, "labelPadding": 20, "title": "Log Temperature Measurement SD [K]", "titlePadding": 0}},
"x2": {"field": "x2"},
"y": {"field": "y", "type": "quantitative", "scale": {"domain": [-4, 2], "nice": false, "zero": false},
 "axis": {"orient": "left", "values": [-4, -3, -2, -1, 0, 1, 2], "format": "d", "labelExpr": "replace(datum.label, '\u2212', '-')", "labelFlush": false, "labelOverlap": false, "tickSize": -22, "labelPadding": 25, "title": "Log Basal Heat Flow SD [W/m\u00b2]", "titlePadding": 12}},
"y2": {"field": "y2"},
"color": {"field": "v", "type": "quantitative",
 "scale": {"type": "linear", "domain": [-1.5, -0.75, 0.55, 1.9, 3.25, 4.65], "range": ["#8000ff", "#0000ff", "#00ffff", "#00ff00", "#ffff00", "#ff0000"], "interpolate": "rgb", "clamp": true},
 "legend": {"type": "gradient", "orient": "top", "direction": "horizontal", "gradientLength": 429, "gradientThickness": 23, "gradientStrokeWidth": 0, "title": "Log Misfit Function Optimal Value", "titleLimit": 1000, "titleAnchor": "middle", "titlePadding": 22, "values": [-1, 0, 1, 2, 3, 4], "format": "d", "labelExpr": "replace(datum.label, '\u2212', '-')", "labelOffset": -44, "labelAlign": "center", "labelOverlap": false, "offset": 12}}
}
},
{
"data": {"name": "fa"},
"mark": {"type": "rect", "clip": true},
"encoding": {
"x": {"field": "x", "type": "quantitative", "scale": {"domain": [-1.6, 0], "nice": false, "zero": false}, "axis": null},
"x2": {"field": "x2"},
"y": {"field": "y", "type": "quantitative", "scale": {"domain": [-4, 2], "nice": false, "zero": false}, "axis": null},
"y2": {"field": "y2"},
"color": {"field": "v", "type": "quantitative",
 "scale": {"type": "linear", "domain": [-1.5, -0.75, 0.55, 1.9, 3.25, 4.65], "range": ["#8000ff", "#0000ff", "#00ffff", "#00ff00", "#ffff00", "#ff0000"], "interpolate": "rgb", "clamp": true},
 "legend": {"type": "gradient", "orient": "top", "direction": "horizontal", "gradientLength": 429, "gradientThickness": 23, "gradientStrokeWidth": 0, "title": "Log Misfit Function Optimal Value", "titleLimit": 1000, "titleAnchor": "middle", "titlePadding": 22, "values": [-1, 0, 1, 2, 3, 4], "format": "d", "labelExpr": "replace(datum.label, '\u2212', '-')", "labelOffset": -44, "labelAlign": "center", "labelOverlap": false, "offset": 12}}
}
},
{
"data": {"name": "sq"},
"mark": {"type": "rect", "color": "white", "clip": true},
"encoding": {
"x": {"field": "x", "type": "quantitative", "scale": {"domain": [-1.6, 0], "nice": false, "zero": false}, "axis": null},
"x2": {"field": "x2"},
"y": {"field": "y", "type": "quantitative", "scale": {"domain": [-4, 2], "nice": false, "zero": false}, "axis": null},
"y2": {"field": "y2"}
}
},
{
"data": {"name": "xt"},
"mark": {"type": "rule", "color": "#111", "strokeWidth": 1.3},
"encoding": {
"x": {"field": "t", "type": "quantitative", "scale": {"domain": [-1.6, 0], "nice": false, "zero": false}, "axis": null},
"y": {"datum": -4, "type": "quantitative", "scale": {"domain": [-4, 2], "nice": false, "zero": false}, "axis": null},
"y2": {"datum": -3.695}
}
},
{
"data": {"name": "xt"},
"mark": {"type": "rule", "color": "#111", "strokeWidth": 1.3},
"encoding": {
"x": {"field": "t", "type": "quantitative", "scale": {"domain": [-1.6, 0], "nice": false, "zero": false}, "axis": null},
"y": {"datum": 2, "type": "quantitative", "scale": {"domain": [-4, 2], "nice": false, "zero": false}, "axis": null},
"y2": {"datum": 1.695}
}
},
{
"data": {"name": "yt"},
"mark": {"type": "rule", "color": "#111", "strokeWidth": 1.3},
"encoding": {
"y": {"field": "t", "type": "quantitative", "scale": {"domain": [-4, 2], "nice": false, "zero": false}, "axis": null},
"x": {"datum": -1.6, "type": "quantitative", "scale": {"domain": [-1.6, 0], "nice": false, "zero": false}, "axis": null},
"x2": {"datum": -1.518}
}
},
{
"data": {"name": "yt"},
"mark": {"type": "rule", "color": "#111", "strokeWidth": 1.3},
"encoding": {
"y": {"field": "t", "type": "quantitative", "scale": {"domain": [-4, 2], "nice": false, "zero": false}, "axis": null},
"x": {"datum": 0, "type": "quantitative", "scale": {"domain": [-1.6, 0], "nice": false, "zero": false}, "axis": null},
"x2": {"datum": -0.082}
}
},
{
"data": {"name": "pts"},
"mark": {"type": "point", "shape": "diamond", "filled": true, "fill": "#d8d8d8", "stroke": "#7a7a7a", "strokeWidth": 1, "size": 130, "opacity": 1},
"encoding": {
"x": {"field": "x", "type": "quantitative", "scale": {"domain": [-1.6, 0], "nice": false, "zero": false}, "axis": null},
"y": {"field": "y", "type": "quantitative", "scale": {"domain": [-4, 2], "nice": false, "zero": false}, "axis": null}
}
}
],
"resolve": {"axis": {"x": "independent", "y": "independent"}}
},
{
"width": 429, "height": 315,
"title": {"text": "b", "orient": "bottom", "anchor": "start", "frame": "group", "dx": -108, "dy": -21, "offset": 0, "fontSize": 22, "fontWeight": "normal", "color": "#8c8c8c", "font": "Roboto"},
"layer": [
{
"data": {"name": "fb"},
"mark": {"type": "rect", "clip": true},
"encoding": {
"x": {"field": "x", "type": "quantitative", "scale": {"domain": [-1.6, 0], "nice": false, "zero": false},
 "axis": {"orient": "bottom", "values": [-1.6, -1.2, -0.8, -0.4, 0], "format": ".1f", "labelExpr": "replace(datum.label, '\u2212', '-')", "labelFlush": false, "labelOverlap": false, "tickSize": -16, "labelPadding": 20, "title": "Log Temperature Measurement SD [K]", "titlePadding": 0}},
"x2": {"field": "x2"},
"y": {"field": "y", "type": "quantitative", "scale": {"domain": [-4, 2], "nice": false, "zero": false},
 "axis": {"orient": "left", "values": [-4, -3, -2, -1, 0, 1, 2], "format": "d", "labelExpr": "replace(datum.label, '\u2212', '-')", "labelFlush": false, "labelOverlap": false, "tickSize": -22, "labelPadding": 25, "title": "Log Basal Heat Flow SD [W/m\u00b2]", "titlePadding": 12}},
"y2": {"field": "y2"},
"color": {"field": "v", "type": "quantitative",
 "scale": {"type": "linear", "domain": [0, 0.086, 0.235, 0.385, 0.535, 0.695], "range": ["#8000ff", "#0000ff", "#00ffff", "#00ff00", "#ffff00", "#ff0000"], "interpolate": "rgb", "clamp": true},
 "legend": {"type": "gradient", "orient": "top", "direction": "horizontal", "gradientLength": 429, "gradientThickness": 23, "gradientStrokeWidth": 0, "title": "Optimized Basal Heat Flow Relative Error Magnitude", "titleLimit": 1000, "titleAnchor": "middle", "titlePadding": 22, "values": [0, 0.1, 0.2, 0.3, 0.4, 0.5, 0.6], "format": ".1f", "labelOffset": -44, "labelAlign": "center", "labelOverlap": false, "offset": 12}}
}
},
{
"data": {"name": "fb"},
"mark": {"type": "rect", "clip": true},
"encoding": {
"x": {"field": "x", "type": "quantitative", "scale": {"domain": [-1.6, 0], "nice": false, "zero": false}, "axis": null},
"x2": {"field": "x2"},
"y": {"field": "y", "type": "quantitative", "scale": {"domain": [-4, 2], "nice": false, "zero": false}, "axis": null},
"y2": {"field": "y2"},
"color": {"field": "v", "type": "quantitative",
 "scale": {"type": "linear", "domain": [0, 0.086, 0.235, 0.385, 0.535, 0.695], "range": ["#8000ff", "#0000ff", "#00ffff", "#00ff00", "#ffff00", "#ff0000"], "interpolate": "rgb", "clamp": true},
 "legend": {"type": "gradient", "orient": "top", "direction": "horizontal", "gradientLength": 429, "gradientThickness": 23, "gradientStrokeWidth": 0, "title": "Optimized Basal Heat Flow Relative Error Magnitude", "titleLimit": 1000, "titleAnchor": "middle", "titlePadding": 22, "values": [0, 0.1, 0.2, 0.3, 0.4, 0.5, 0.6], "format": ".1f", "labelOffset": -44, "labelAlign": "center", "labelOverlap": false, "offset": 12}}
}
},
{
"data": {"name": "sq"},
"mark": {"type": "rect", "color": "white", "clip": true},
"encoding": {
"x": {"field": "x", "type": "quantitative", "scale": {"domain": [-1.6, 0], "nice": false, "zero": false}, "axis": null},
"x2": {"field": "x2"},
"y": {"field": "y", "type": "quantitative", "scale": {"domain": [-4, 2], "nice": false, "zero": false}, "axis": null},
"y2": {"field": "y2"}
}
},
{
"data": {"name": "xt"},
"mark": {"type": "rule", "color": "#111", "strokeWidth": 1.3},
"encoding": {
"x": {"field": "t", "type": "quantitative", "scale": {"domain": [-1.6, 0], "nice": false, "zero": false}, "axis": null},
"y": {"datum": -4, "type": "quantitative", "scale": {"domain": [-4, 2], "nice": false, "zero": false}, "axis": null},
"y2": {"datum": -3.695}
}
},
{
"data": {"name": "xt"},
"mark": {"type": "rule", "color": "#111", "strokeWidth": 1.3},
"encoding": {
"x": {"field": "t", "type": "quantitative", "scale": {"domain": [-1.6, 0], "nice": false, "zero": false}, "axis": null},
"y": {"datum": 2, "type": "quantitative", "scale": {"domain": [-4, 2], "nice": false, "zero": false}, "axis": null},
"y2": {"datum": 1.695}
}
},
{
"data": {"name": "yt"},
"mark": {"type": "rule", "color": "#111", "strokeWidth": 1.3},
"encoding": {
"y": {"field": "t", "type": "quantitative", "scale": {"domain": [-4, 2], "nice": false, "zero": false}, "axis": null},
"x": {"datum": -1.6, "type": "quantitative", "scale": {"domain": [-1.6, 0], "nice": false, "zero": false}, "axis": null},
"x2": {"datum": -1.518}
}
},
{
"data": {"name": "yt"},
"mark": {"type": "rule", "color": "#111", "strokeWidth": 1.3},
"encoding": {
"y": {"field": "t", "type": "quantitative", "scale": {"domain": [-4, 2], "nice": false, "zero": false}, "axis": null},
"x": {"datum": 0, "type": "quantitative", "scale": {"domain": [-1.6, 0], "nice": false, "zero": false}, "axis": null},
"x2": {"datum": -0.082}
}
},
{
"data": {"name": "pts"},
"mark": {"type": "point", "shape": "diamond", "filled": true, "fill": "#d8d8d8", "stroke": "#7a7a7a", "strokeWidth": 1, "size": 130, "opacity": 1},
"encoding": {
"x": {"field": "x", "type": "quantitative", "scale": {"domain": [-1.6, 0], "nice": false, "zero": false}, "axis": null},
"y": {"field": "y", "type": "quantitative", "scale": {"domain": [-4, 2], "nice": false, "zero": false}, "axis": null}
}
}
],
"resolve": {"axis": {"x": "independent", "y": "independent"}}
}
],
"resolve": {"scale": {"color": "independent", "x": "independent", "y": "independent"}, "legend": {"color": "independent"}},
"config": {
"font": "Liberation Sans",
"view": {"stroke": "#1a1a1a", "strokeWidth": 1.3},
"axis": {"labelFont": "Liberation Sans", "labelFontSize": 16, "labelColor": "#000", "titleFont": "Liberation Sans", "titleFontSize": 17, "titleFontWeight": "normal", "titleColor": "#000", "tickColor": "#111", "tickWidth": 1.3, "grid": false, "domain": false, "zindex": 1},
"legend": {"labelFont": "Liberation Sans", "titleFont": "Liberation Sans", "labelFontSize": 15.5, "titleFontSize": 15.5, "titleFontWeight": "normal", "labelColor": "#000", "titleColor": "#000"}
}
}
